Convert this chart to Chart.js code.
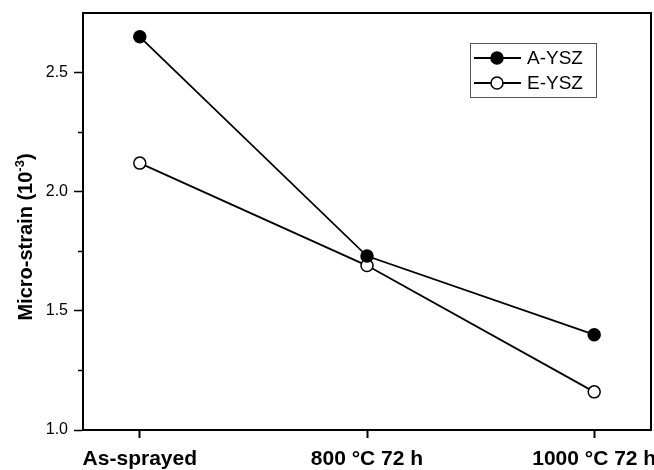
<!DOCTYPE html>
<html>
<head>
<meta charset="utf-8">
<script src="https://cdn.jsdelivr.net/npm/chart.js@4"></script>
<style>
  body { margin: 0; background: #fff; }
  canvas { display: block; }
</style>
</head>
<body>
<canvas id="strain-chart" width="654" height="470"></canvas>
<script>
const categories = ['As-sprayed', '800 °C 72 h', '1000 °C 72 h'];
const aYsz = [2.65, 1.73, 1.40];   // filled circles
const eYsz = [2.12, 1.69, 1.16];   // open circles
const yTicks = [1.0, 1.5, 2.0, 2.5];
const yMinorTicks = [1.25, 1.75, 2.25];

const toPoints = vals => vals.map((v, i) => ({x: i, y: v}));

// box round the plot, like Origin
const frame = {
    id: 'frame',
    afterDraw(chart) {
        const a = chart.chartArea, ctx = chart.ctx;
        ctx.save();
        ctx.strokeStyle = '#000';
        ctx.lineWidth = 2;
        ctx.strokeRect(a.left, a.top, a.right - a.left, a.bottom - a.top);
        // minor ticks on y
        const y = chart.scales.y;
        ctx.lineWidth = 1.5;
        yMinorTicks.forEach(v => {
            const p = Math.round(y.getPixelForValue(v)) + 0.5;
            ctx.beginPath();
            ctx.moveTo(a.left - 5, p);
            ctx.lineTo(a.left, p);
            ctx.stroke();
        });
        ctx.restore();
    }
};

// y title with a superscript
const yTitle = {
    id: 'yTitle',
    afterDraw(chart) {
        const ctx = chart.ctx;
        const main = 'Micro-strain (10', sup = '-3', tail = ')';
        ctx.save();
        ctx.fillStyle = '#000';
        ctx.textBaseline = 'alphabetic';
        ctx.font = 'bold 20px Arial, "Liberation Sans"';
        const w1 = ctx.measureText(main).width, w3 = ctx.measureText(tail).width;
        ctx.font = 'bold 13px Arial, "Liberation Sans"';
        const w2 = ctx.measureText(sup).width;
        const total = w1 + w2 + w3;
        ctx.translate(32, 237);
        ctx.rotate(-Math.PI / 2);
        let x = -total / 2;
        ctx.font = 'bold 20px Arial, "Liberation Sans"';
        ctx.fillText(main, x, 0);
        x += w1;
        ctx.font = 'bold 13px Arial, "Liberation Sans"';
        ctx.fillText(sup, x, -8);
        x += w2;
        ctx.font = 'bold 20px Arial, "Liberation Sans"';
        ctx.fillText(tail, x, 0);
        ctx.restore();
    }
};

// legend box: line - marker - line, then the name
const boxLegend = {
    id: 'boxLegend',
    afterDraw(chart) {
        const ctx = chart.ctx;
        ctx.save();
        ctx.strokeStyle = '#555';
        ctx.lineWidth = 1;
        ctx.strokeRect(470.5, 43.5, 126, 54);
        chart.data.datasets.forEach((ds, i) => {
            const yy = 58 + i * 25;
            ctx.strokeStyle = '#000';
            ctx.lineWidth = 2;
            ctx.beginPath();
            ctx.moveTo(474, yy);
            ctx.lineTo(521, yy);
            ctx.stroke();
            ctx.beginPath();
            ctx.arc(497, yy, 6, 0, Math.PI * 2);
            ctx.fillStyle = ds.pointBackgroundColor;
            ctx.fill();
            ctx.lineWidth = 1.5;
            ctx.stroke();
            ctx.fillStyle = '#000';
            ctx.font = '19px Arial, "Liberation Sans"';
            ctx.textBaseline = 'middle';
            ctx.fillText(ds.label, 527, yy + 1);
        });
        ctx.restore();
    }
};

new Chart('strain-chart', {
    type: 'line',
    data: {
        datasets: [
            {
                label: 'A-YSZ',
                data: toPoints(aYsz),
                borderColor: '#000',
                borderWidth: 1.8,
                pointRadius: 6,
                pointBorderWidth: 1.5,
                pointBorderColor: '#000',
                pointBackgroundColor: '#000'
            },
            {
                label: 'E-YSZ',
                data: toPoints(eYsz),
                borderColor: '#000',
                borderWidth: 1.8,
                pointRadius: 6,
                pointBorderWidth: 1.5,
                pointBorderColor: '#000',
                pointBackgroundColor: '#fff'
            }
        ]
    },
    options: {
        responsive: false,
        animation: false,
        devicePixelRatio: 1,
        layout: { autoPadding: false, padding: { top: 13, right: 3, left: 0, bottom: 0 } },
        plugins: {
            legend: { display: false },
            tooltip: { enabled: false }
        },
        scales: {
            x: {
                type: 'linear',
                min: -0.25,
                max: 2.25,
                afterBuildTicks: s => { s.ticks = categories.map((c, i) => ({value: i})); },
                afterFit: s => { s.height = 40; s.paddingLeft = 0; s.paddingRight = 0; },
                ticks: {
                    callback: v => categories[v],
                    color: '#000',
                    font: { family: 'Arial, "Liberation Sans"', size: 21, weight: 'bold' },
                    padding: 9,
                    maxRotation: 0,
                    autoSkip: false
                },
                grid: { drawOnChartArea: false, tickLength: 8, tickColor: '#000', tickWidth: 2 },
                border: { color: '#000', width: 2 }
            },
            y: {
                min: 1.0,
                max: 2.75,
                afterBuildTicks: s => { s.ticks = yTicks.map(v => ({value: v})); },
                afterFit: s => { s.width = 83; s.paddingTop = 0; s.paddingBottom = 0; },
                ticks: {
                    callback: v => v.toFixed(1),
                    color: '#000',
                    font: { family: 'Arial, "Liberation Sans"', size: 16 },
                    padding: 6
                },
                grid: { drawOnChartArea: false, tickLength: 9, tickColor: '#000', tickWidth: 1.5 },
                border: { color: '#000', width: 2 }
            }
        }
    },
    plugins: [frame, yTitle, boxLegend]
});
</script>
</body>
</html>
